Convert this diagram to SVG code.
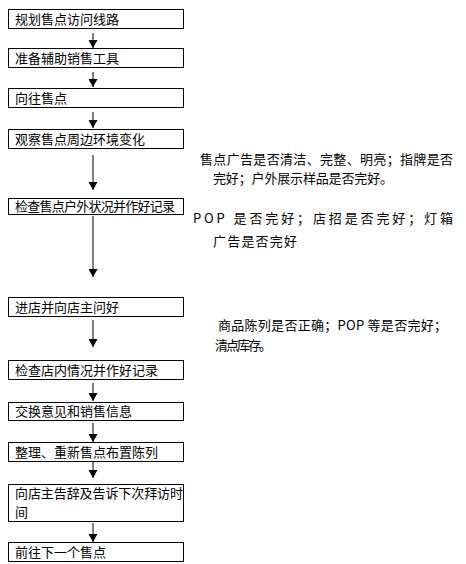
<svg xmlns="http://www.w3.org/2000/svg" width="466" height="564" viewBox="0 0 466 564">
<defs>
<style>
.box{fill:#fff;stroke:#000;stroke-width:1}
.t{font-family:"Noto Sans CJK SC","Liberation Sans",sans-serif;font-size:13px;fill:#000}
.c{stroke:#000;stroke-width:1;fill:none;marker-end:url(#ah)}
</style>
<marker id="ah" markerWidth="8" markerHeight="9" refX="8" refY="4.5" orient="auto" markerUnits="userSpaceOnUse">
<path d="M0,0 L8,4.5 L0,9 Z" fill="#000"/>
</marker>
</defs>
<rect width="466" height="564" fill="#fff"/>
<g id="connectors">
<line class="c" x1="93" y1="33" x2="93" y2="48"/>
<line class="c" x1="93" y1="72" x2="93" y2="87"/>
<line class="c" x1="93" y1="112" x2="93" y2="128"/>
<line class="c" x1="93" y1="155" x2="93" y2="190"/>
<line class="c" x1="93" y1="216" x2="93" y2="277"/>
<line class="c" x1="93" y1="320" x2="93" y2="347"/>
<line class="c" x1="93" y1="383" x2="93" y2="401"/>
<line class="c" x1="93" y1="423" x2="93" y2="442"/>
<line class="c" x1="93" y1="462" x2="93" y2="478"/>
<line class="c" x1="93" y1="523" x2="93" y2="542"/>
</g>
<g id="n1"><rect class="box" x="8.5" y="9.5" width="175" height="19"/><text class="t" x="15" y="23.5">规划售点访问线路</text></g>
<g id="n2"><rect class="box" x="8.5" y="48.5" width="175" height="19"/><text class="t" x="15" y="62.5">准备辅助销售工具</text></g>
<g id="n3"><rect class="box" x="8.5" y="88.5" width="175" height="19"/><text class="t" x="15" y="102.5">向往售点</text></g>
<g id="n4"><rect class="box" x="8.5" y="129.5" width="175" height="19"/><text class="t" x="15" y="143.5">观察售点周边环境变化</text></g>
<g id="n5"><rect class="box" x="8.5" y="198.5" width="175" height="16"/><text class="t" x="15" y="210.5" textLength="160">检查售点户外状况并作好记录</text></g>
<g id="n6"><rect class="box" x="8.5" y="297.5" width="175" height="19"/><text class="t" x="15" y="311.5">进店并向店主问好</text></g>
<g id="n7"><rect class="box" x="8.5" y="360.5" width="175" height="19"/><text class="t" x="15" y="374.5">检查店内情况并作好记录</text></g>
<g id="n8"><rect class="box" x="8.5" y="402.5" width="175" height="18"/><text class="t" x="15" y="416">交换意见和销售信息</text></g>
<g id="n9"><rect class="box" x="8.5" y="442.5" width="175" height="19"/><text class="t" x="15" y="456.5">整理、重新售点布置陈列</text></g>
<g id="n10"><rect class="box" x="8.5" y="484.5" width="175" height="37"/><text class="t" x="15" y="497.5" textLength="168">向店主告辞及告诉下次拜访时</text><text class="t" x="15" y="516.5">间</text></g>
<g id="n11"><rect class="box" x="8.5" y="542.5" width="175" height="19"/><text class="t" x="15" y="556.5">前往下一个售点</text></g>
<g id="note1"><text class="t" x="200" y="164" textLength="253" lengthAdjust="spacing">售点广告是否清洁、完整、明亮；指牌是否</text><text class="t" x="213" y="183" textLength="180" lengthAdjust="spacing">完好；户外展示样品是否完好。</text></g>
<g id="note2"><text class="t" x="193" y="223" textLength="260" lengthAdjust="spacing">POP 是否完好；店招是否完好；灯箱</text><text class="t" x="213" y="246" textLength="84" lengthAdjust="spacing">广告是否完好</text></g>
<g id="note3"><text class="t" x="218" y="330" textLength="229" lengthAdjust="spacing">商品陈列是否正确；POP 等是否完好；</text><text class="t" x="215" y="350" textLength="57" lengthAdjust="spacing">清点库存。</text></g>
</svg>
